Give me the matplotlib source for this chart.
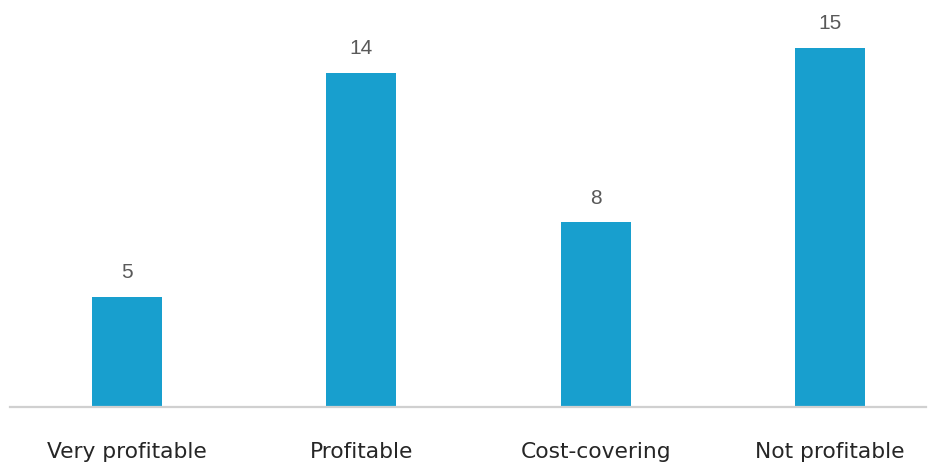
import numpy as np
import matplotlib
matplotlib.use('Agg')
import matplotlib.pyplot as plt

categories = ["Very profitable", "Profitable", "Cost-covering", "Not profitable"]
values = [5, 14, 8, 15]

bar_color = "#189fce"

fig = plt.figure(figsize=(9.36, 4.66), dpi=100)
# axes in pixel terms: left 10, right 926, baseline at 407, top at 20
ax = fig.add_axes([10 / 936, (466 - 407) / 466, 916 / 936, (407 - 20) / 466])

x = np.arange(len(categories))
bars = ax.bar(x, values, width=0.299, color=bar_color)

ax.set_xlim(-0.499, 3.41)
ax.set_ylim(0.582, 16.12)

for xi, v in zip(x, values):
    ax.annotate(str(v), (xi, v), xytext=(0, 10.5), textcoords="offset points",
                ha="center", va="bottom", fontsize=15, color="#595959",
                family="Liberation Sans")

for s in ["top", "right", "left"]:
    ax.spines[s].set_visible(False)
ax.spines["bottom"].set_color("#d0d0d0")
ax.spines["bottom"].set_linewidth(1.6)
ax.set_yticks([])
ax.set_xticks(x)
ax.set_xticklabels(categories, fontsize=15.7, color="#262626", family="DejaVu Sans")
ax.tick_params(axis="x", length=0, pad=25)

plt.savefig("out.png", dpi=100)
